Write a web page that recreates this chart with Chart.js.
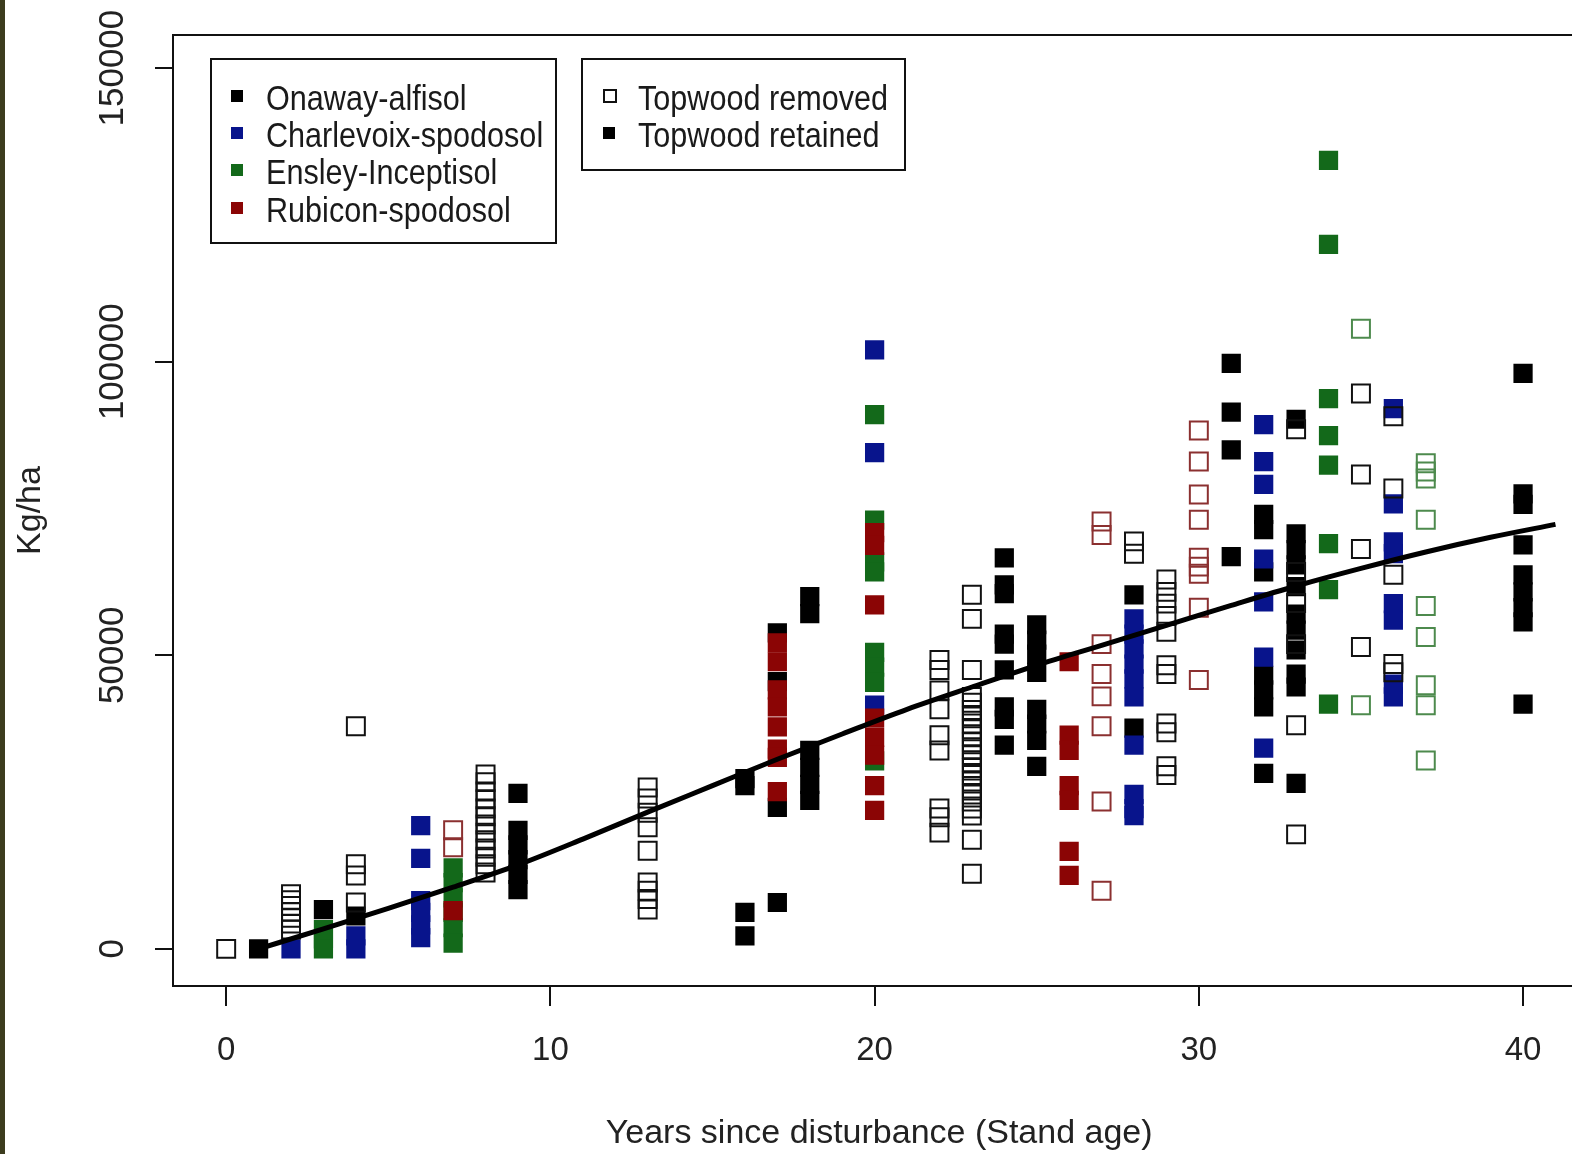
<!DOCTYPE html>
<html>
<head>
<meta charset="utf-8">
<script src="https://cdn.jsdelivr.net/npm/chart.js@4.4.1/dist/chart.umd.min.js"></script>
<style>
  html, body { margin: 0; padding: 0; background: #fff; overflow: hidden; }
  #wrap { position: relative; width: 1572px; height: 1154px; overflow: hidden; background: #fff; }
  #strip { position: absolute; left: 0; top: 0; width: 5px; height: 1154px; background: #3c3c1e; z-index: 3; }
  #chart { position: absolute; left: 0; top: 0; }
  .box { position: absolute; border: 2px solid #111; box-sizing: border-box; }
  .txt { position: absolute; font-family: "Liberation Sans", Arial, sans-serif; font-size: 30.6px;
         color: #1a1a1a; line-height: 36px; white-space: nowrap; transform: scaleY(1.12); }
  .mk { position: absolute; width: 12px; height: 12px; box-sizing: border-box; }
</style>
</head>
<body>
<div id="wrap">
  <canvas id="chart" width="1600" height="1154"></canvas>
  <div id="strip"></div>

  <div class="box" style="left:210px; top:58px; width:347px; height:186px;"></div>
  <div class="mk" style="left:231px; top:90px; background:#000;"></div>
  <div class="mk" style="left:231px; top:127px; background:#08148c;"></div>
  <div class="mk" style="left:231px; top:164px; background:#13691a;"></div>
  <div class="mk" style="left:231px; top:202px; background:#8b0505;"></div>
  <div class="txt" style="left:266px; top:80px;">Onaway-alfisol</div>
  <div class="txt" style="left:266px; top:117px;">Charlevoix-spodosol</div>
  <div class="txt" style="left:266px; top:154px;">Ensley-Inceptisol</div>
  <div class="txt" style="left:266px; top:192px;">Rubicon-spodosol</div>

  <div class="box" style="left:581px; top:58px; width:325px; height:113px;"></div>
  <div class="mk" style="left:603px; top:89px; width:14px; height:14px; border:2px solid #111;"></div>
  <div class="mk" style="left:603px; top:127px; background:#000;"></div>
  <div class="txt" style="left:638px; top:80px;">Topwood removed</div>
  <div class="txt" style="left:638px; top:117px;">Topwood retained</div>
</div>

<script>
var xTickValues = [0, 10, 20, 30, 40];
var yTickValues = [0, 50000, 100000, 150000];

// fitted curve, read at odd years
var trendX = [1, 3, 5, 7, 9, 11, 13, 15, 17, 19, 21, 23, 25, 27, 29, 31, 33, 35, 37, 39, 41];
var trendY = [0, 3400, 6900, 10500, 14300, 18700, 23300, 27800, 32300, 36600, 40800, 44600,
              48300, 51700, 55100, 58500, 61800, 64800, 67600, 70100, 72300];

// [stand age, kg/ha]
var onawayRemoved = [
  [0, 0],
  [2, 9300], [2, 8300], [2, 7300], [2, 6300], [2, 5300], [2, 4300], [2, 3300],
  [4, 37900], [4, 14400], [4, 12500], [4, 7900],
  [8, 29700], [8, 28400], [8, 26800], [8, 25500], [8, 23900], [8, 22600], [8, 21200], [8, 19800],
  [8, 18500], [8, 17100], [8, 15700], [8, 14400], [8, 13000],
  [13, 27500], [13, 25600], [13, 23200], [13, 20700], [13, 16700], [13, 11300], [13, 9900], [13, 8500], [13, 6700],
  [22, 49200], [22, 47500], [22, 44000], [22, 40800], [22, 36400], [22, 33800], [22, 23900], [22, 22400], [22, 19800],
  [23, 60300], [23, 56200], [23, 47500], [23, 42900], [23, 41900], [23, 40700], [23, 39600], [23, 38400],
  [23, 37400], [23, 36200], [23, 35200], [23, 34000], [23, 33000], [23, 31800], [23, 30800], [23, 29600],
  [23, 28500], [23, 27300], [23, 26300], [23, 25100], [23, 23900], [23, 22700], [23, 18600], [23, 12800],
  [28, 69400], [28, 67300],
  [29, 62900], [29, 60800], [29, 58800], [29, 56700], [29, 54000], [29, 48300], [29, 46800],
  [29, 38400], [29, 36900], [29, 31100], [29, 29600],
  [33, 88500], [33, 64200], [33, 58900], [33, 51900], [33, 38100], [33, 19500],
  [35, 94600], [35, 80800], [35, 68100], [35, 51400],
  [36, 90700], [36, 78400], [36, 63700], [36, 48500], [36, 47100]
];
var onawayRetained = [
  [1, 0],
  [3, 6700],
  [4, 5600],
  [9, 26500], [9, 20200], [9, 17700], [9, 15200], [9, 12700], [9, 10100],
  [16, 29000], [16, 27800], [16, 6200], [16, 2200],
  [17, 53800], [17, 45500], [17, 24100], [17, 7900],
  [18, 60000], [18, 57100], [18, 33800], [18, 30900], [18, 28000], [18, 25300],
  [24, 66600], [24, 62000], [24, 60500], [24, 53600], [24, 51900], [24, 47500], [24, 41200], [24, 39100], [24, 34700],
  [25, 55200], [25, 52600], [25, 50200], [25, 47100], [25, 40800], [25, 38300], [25, 35500], [25, 31100],
  [28, 60300], [28, 37600],
  [31, 99700], [31, 91400], [31, 85000], [31, 66800],
  [32, 74000], [32, 71400], [32, 64200], [32, 46600], [32, 44100], [32, 41200], [32, 29900],
  [33, 90200], [33, 70700], [33, 68000], [33, 65400], [33, 61700], [33, 57000], [33, 54300],
  [33, 50900], [33, 46800], [33, 44600], [33, 28200],
  [40, 98000], [40, 77500], [40, 75700], [40, 68800], [40, 63700], [40, 60800], [40, 58100], [40, 55700], [40, 41700]
];
var charlevoixRetained = [
  [2, 0],
  [4, 2200], [4, 0],
  [6, 21000], [6, 15400], [6, 8200], [6, 6200], [6, 4100], [6, 1900],
  [20, 102000], [20, 84500], [20, 41500],
  [28, 56200], [28, 53600], [28, 51100], [28, 48500], [28, 46000], [28, 42900], [28, 34700],
  [28, 26300], [28, 23900], [28, 22700],
  [32, 89300], [32, 83000], [32, 79100], [32, 66400], [32, 59100], [32, 49700], [32, 34200],
  [36, 92000], [36, 75800], [36, 69300], [36, 67300], [36, 58800], [36, 56000], [36, 45100], [36, 42900]
];
var ensleyRemoved = [
  [35, 105600], [35, 41500],
  [37, 82700], [37, 81300], [37, 80100], [37, 73100], [37, 58400], [37, 53100], [37, 44900], [37, 41500], [37, 32100]
];
var ensleyRetained = [
  [3, 3300], [3, 1700], [3, 0],
  [7, 13800], [7, 11300], [7, 8700], [7, 6200], [7, 3600], [7, 1000],
  [20, 91000], [20, 73000], [20, 65900], [20, 64200], [20, 50500], [20, 48000], [20, 45400], [20, 32000],
  [34, 134300], [34, 120000], [34, 93700], [34, 87400], [34, 82400], [34, 69000], [34, 61200], [34, 41700]
];
var rubiconRemoved = [
  [7, 20200], [7, 17300],
  [27, 72800], [27, 70500], [27, 51900], [27, 46800], [27, 43000], [27, 37900], [27, 25100], [27, 9900],
  [30, 88300], [30, 83000], [30, 77400], [30, 73100], [30, 66600], [30, 65100], [30, 63900], [30, 58100], [30, 45800]
];
var rubiconRetained = [
  [7, 6500],
  [17, 52100], [17, 48900], [17, 44100], [17, 41200], [17, 37800], [17, 34000], [17, 32600], [17, 26800],
  [20, 70900], [20, 68700], [20, 58600], [20, 39300], [20, 36000], [20, 33000], [20, 27800], [20, 23600],
  [26, 48900], [26, 36400], [26, 33800], [26, 27800], [26, 25300], [26, 16600], [26, 12500]
];

function pts(arr) {
  return arr.map(function(p) { return { x: p[0], y: p[1] }; });
}
function filled(arr, color) {
  return { type: 'scatter', data: pts(arr), pointStyle: 'rect', pointRadius: 13.6,
           backgroundColor: color, borderWidth: 0 };
}
function open(arr, color) {
  return { type: 'scatter', data: pts(arr), pointStyle: 'rect', pointRadius: 12.7,
           backgroundColor: 'rgba(0,0,0,0)', borderColor: color, borderWidth: 2 };
}

var FONT = '"Liberation Sans", Arial, sans-serif';

var framePlugin = {
  id: 'frame',
  beforeDatasetsDraw: function(chart) {
    var a = chart.chartArea, ctx = chart.ctx;
    ctx.save();
    ctx.strokeStyle = '#111';
    ctx.lineWidth = 2;
    ctx.strokeRect(a.left, a.top, a.right - a.left, a.bottom - a.top);
    ctx.restore();
  }
};

// R draws y labels parallel to the axis
var yLabelPlugin = {
  id: 'yLabels',
  afterDraw: function(chart) {
    var ctx = chart.ctx, s = chart.scales.y;
    ctx.save();
    ctx.font = '35px ' + FONT;
    ctx.fillStyle = '#222';
    ctx.textAlign = 'center';
    ctx.textBaseline = 'middle';
    yTickValues.forEach(function(v) {
      ctx.save();
      ctx.translate(113, s.getPixelForValue(v));
      ctx.rotate(-Math.PI / 2);
      ctx.fillText(String(v), 0, 0);
      ctx.restore();
    });
    ctx.restore();
  }
};

new Chart(document.getElementById('chart'), {
  data: {
    datasets: [
      { type: 'line', data: trendX.map(function(x, i) { return { x: x, y: trendY[i] }; }),
        borderColor: '#000', borderWidth: 5, pointRadius: 0, fill: false,
        cubicInterpolationMode: 'monotone' },
      open(onawayRemoved, '#111'),
      open(rubiconRemoved, '#8b3030'),
      open(ensleyRemoved, '#4d8a4d'),
      filled(rubiconRetained, '#8b0505'),
      filled(charlevoixRetained, '#08148c'),
      filled(ensleyRetained, '#13691a'),
      filled(onawayRetained, '#000')
    ]
  },
  options: {
    responsive: false,
    animation: false,
    events: [],
    devicePixelRatio: 1,
    layout: { padding: { top: 35, left: 0, right: 10, bottom: 0 } },
    plugins: { legend: { display: false }, tooltip: { enabled: false } },
    scales: {
      x: {
        type: 'linear', position: 'bottom', min: -1.64, max: 41.92,
        afterBuildTicks: function(s) { s.ticks = xTickValues.map(function(v) { return { value: v }; }); },
        afterFit: function(s) { s.height = 168; },
        border: { display: false },
        grid: { drawOnChartArea: false, drawTicks: true, tickLength: 20, color: '#111', lineWidth: 2 },
        ticks: { color: '#222', font: { size: 33, family: FONT }, padding: 25, maxRotation: 0 },
        title: { display: true, text: 'Years since disturbance (Stand age)', color: '#222',
                 font: { size: 34, family: FONT }, padding: { top: 0, bottom: 0 } }
      },
      y: {
        type: 'linear', position: 'left', min: -6321, max: 155638,
        afterBuildTicks: function(s) { s.ticks = yTickValues.map(function(v) { return { value: v }; }); },
        afterFit: function(s) { s.width = 173; },
        border: { display: false },
        grid: { drawOnChartArea: false, drawTicks: true, tickLength: 18, color: '#111', lineWidth: 2 },
        ticks: { display: false },
        title: { display: true, text: 'Kg/ha', color: '#222',
                 font: { size: 34, family: FONT }, padding: { top: 10, bottom: 0 } }
      }
    }
  },
  plugins: [framePlugin, yLabelPlugin]
});
</script>
</body>
</html>
